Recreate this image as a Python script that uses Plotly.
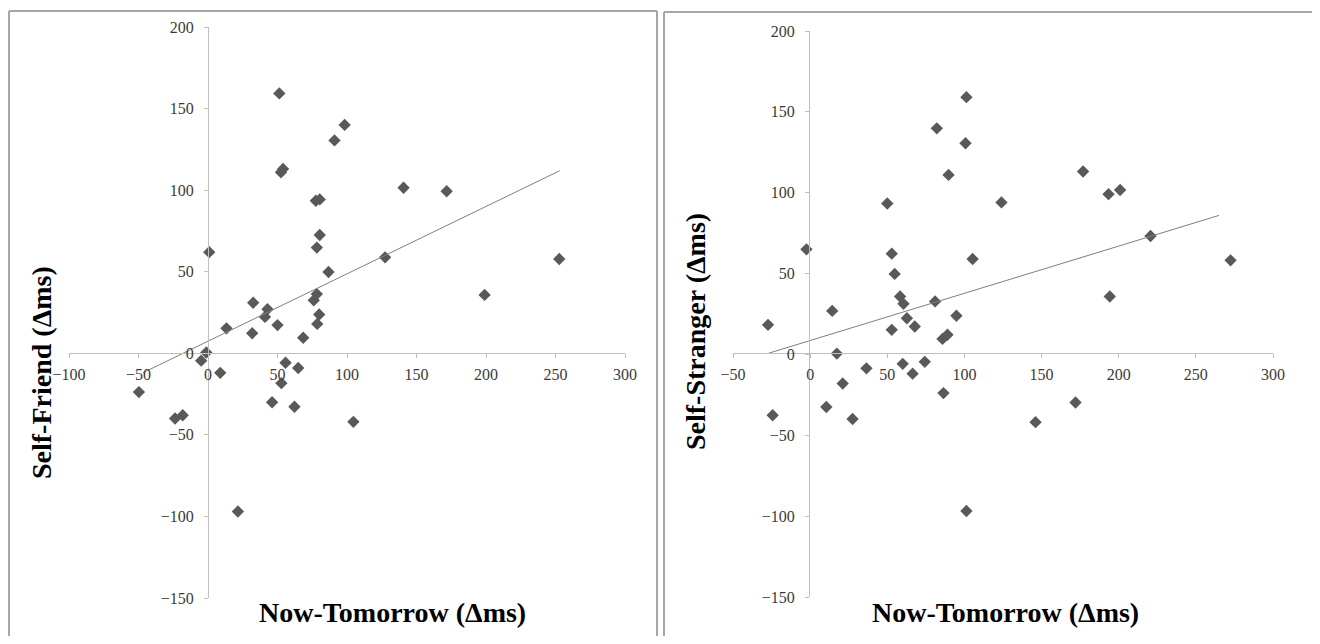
import numpy as np
import plotly.graph_objects as go

# ---- data ----
friend_x = [51.3, 98.3, 91.0, 54.0, 52.5, 140.7, 171.7, 77.6, 80.4, 80.4,
            78.3, 0.9, 127.4, 252.7, 86.7, 199.0, 78.3, 76.1, 32.5, 42.8,
            41.0, 80.0, 13.3, 50.0, 78.6, 31.8, 68.5, -1.2, -4.9, 8.8,
            55.8, 64.9, 52.8, -49.7, 46.1, 62.2, -23.7, -18.2, 104.6, 21.5]
friend_y = [159.3, 140.0, 130.5, 113.0, 111.0, 101.5, 99.3, 93.5, 94.3, 72.5,
            64.8, 62.0, 58.8, 57.8, 49.8, 35.8, 36.3, 32.5, 31.0, 27.0,
            22.3, 23.8, 15.3, 17.3, 18.0, 12.3, 9.5, 0.5, -4.5, -12.0,
            -5.8, -9.0, -18.3, -23.8, -30.0, -32.8, -40.0, -38.0, -42.0, -97.0]

stranger_x = [101.3, 82.1, 100.7, 89.7, 176.9, 193.4, 200.9, 50.0, 124.0, -2.4,
              52.9, 105.3, 220.6, 272.5, 54.8, 194.2, 58.3, 60.5, 81.0, -27.3,
              14.3, 62.7, 67.8, 94.8, 52.9, 85.8, 89.0, 17.3, 36.5, 60.0,
              74.3, 66.4, 21.1, 86.4, 10.5, -24.3, 27.5, 172.0, 146.1, 101.3]
stranger_y = [159.1, 139.8, 130.6, 111.0, 113.1, 99.1, 101.7, 93.3, 94.0, 65.0,
              62.3, 59.0, 73.2, 58.2, 49.8, 35.8, 35.8, 31.3, 32.8, 18.3,
              26.9, 22.4, 17.3, 23.9, 15.2, 9.6, 12.2, 0.5, -8.6, -5.8,
              -4.6, -11.9, -18.0, -23.9, -32.5, -37.6, -39.9, -29.7, -41.9, -96.8]

# linear trendlines (slope, intercept, x-extent)
friend_trend = (0.413, 7.4)
friend_trend_x = [-47, 253]
stranger_trend = (0.292, 8.6)
stranger_trend_x = [-27, 265]

x_ticks_left = [-100, -50, 0, 50, 100, 150, 200, 250, 300]
x_ticks_right = [-50, 0, 50, 100, 150, 200, 250, 300]
y_ticks = [-150, -100, -50, 0, 50, 100, 150, 200]

x_title = "Now-Tomorrow (\u0394ms)"
y_title_left = "Self-Friend (\u0394ms)"
y_title_right = "Self-Stranger (\u0394ms)"

# page is 1320x644; the HTML body has an 8px margin on each side
OFF = 8
FW, FH = 1320 - 2 * OFF, 644 - 2 * OFF
SERIF = "Liberation Serif, Times New Roman, serif"
MARK = "#595959"
AXC = "#bfbfbf"


def px(x):
    return (x - OFF) / FW


def py(y):
    return 1 - (y - OFF) / FH


def line_pts(coef, xs):
    xs = np.array(xs, dtype=float)
    return xs, coef[0] * xs + coef[1]


fig = go.Figure()
fig.add_trace(go.Scatter(x=friend_x, y=friend_y, mode="markers",
                         marker=dict(symbol="diamond", size=9.5, color=MARK),
                         xaxis="x", yaxis="y", showlegend=False))
tx, ty = line_pts(friend_trend, friend_trend_x)
fig.add_trace(go.Scatter(x=tx, y=ty, mode="lines", line=dict(color="#7f7f7f", width=1),
                         xaxis="x", yaxis="y", showlegend=False))
fig.add_trace(go.Scatter(x=stranger_x, y=stranger_y, mode="markers",
                         marker=dict(symbol="diamond", size=9.5, color=MARK),
                         xaxis="x2", yaxis="y2", showlegend=False))
tx, ty = line_pts(stranger_trend, stranger_trend_x)
fig.add_trace(go.Scatter(x=tx, y=ty, mode="lines", line=dict(color="#7f7f7f", width=1),
                         xaxis="x2", yaxis="y2", showlegend=False))

common = dict(showgrid=False, zeroline=False, showline=True, linecolor=AXC, linewidth=1,
              ticks="outside", ticklen=4, tickcolor=AXC, automargin=False,
              tickfont=dict(family=SERIF, size=16, color="#3a3a3a"))

fig.update_layout(
    width=FW, height=FH, margin=dict(l=0, r=0, t=0, b=0, pad=0),
    paper_bgcolor="white", plot_bgcolor="white",
    xaxis=dict(domain=[px(69), px(625)], range=[-100, 300], tickvals=x_ticks_left,
               anchor="free", position=py(353), ticklabelstandoff=3, **common),
    yaxis=dict(domain=[py(598), py(27)], range=[-150, 200], tickvals=y_ticks,
               anchor="free", position=px(208), ticklabelstandoff=7, **common),
    xaxis2=dict(domain=[px(733), px(1273)], range=[-50, 300], tickvals=x_ticks_right,
                anchor="free", position=py(353), ticklabelstandoff=3, **common),
    yaxis2=dict(domain=[py(597), py(31)], range=[-150, 200], tickvals=y_ticks,
                anchor="free", position=px(809), ticklabelstandoff=7, **common),
)

tfont = dict(family=SERIF, size=28, color="#000000")
ann = dict(xref="paper", yref="paper", showarrow=False, font=tfont,
           xanchor="center", yanchor="middle")
fig.add_annotation(text="<b>" + x_title + "</b>", x=px(392), y=py(612), **ann)
fig.add_annotation(text="<b>" + x_title + "</b>", x=px(1005), y=py(612), **ann)
fig.add_annotation(text="<b>" + y_title_left + "</b>", x=px(41), y=py(373),
                   textangle=-90, **ann)
fig.add_annotation(text="<b>" + y_title_right + "</b>", x=px(695), y=py(332),
                   textangle=-90, **ann)

# panel borders
bc = dict(color="#a6a6a6", width=2)
for (x0, y0, x1, y1) in [
    (9, 700, 9, 11), (9, 11, 657, 11), (657, 11, 657, 700),
    (664, 700, 664, 12), (664, 12, 1340, 12),
]:
    fig.add_shape(type="line", xref="paper", yref="paper",
                  x0=px(x0), y0=py(y0), x1=px(x1), y1=py(y1), line=bc)

fig.write_html("out.html")
